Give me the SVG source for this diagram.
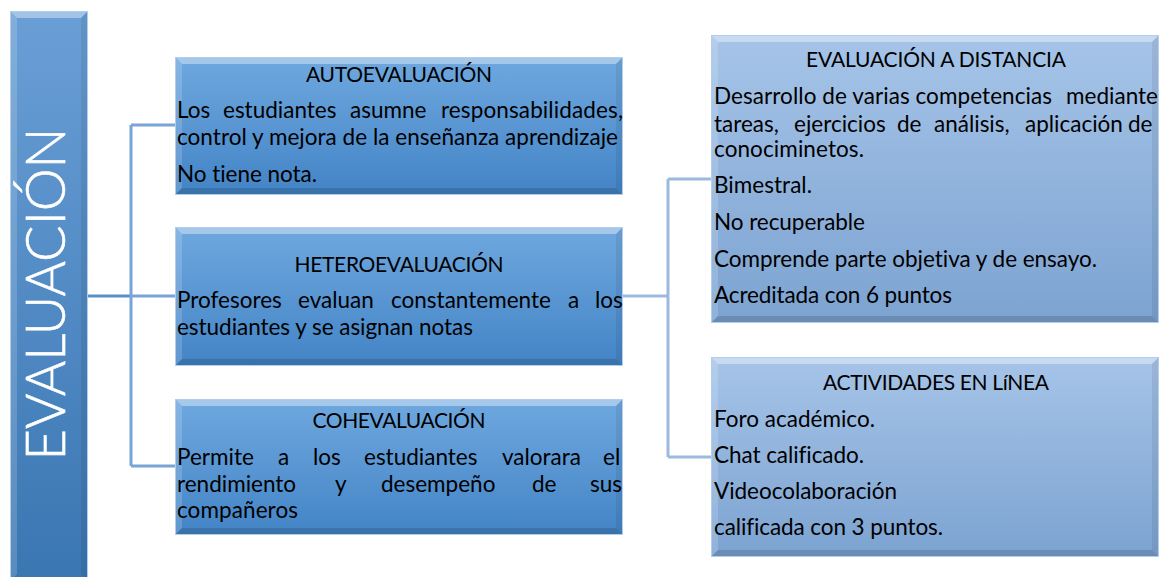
<svg xmlns="http://www.w3.org/2000/svg" width="1163" height="577" viewBox="0 0 1163 577">
<style>
.t{font-family:Lato,"Liberation Sans",sans-serif;font-size:22.5px;fill:#000;font-variant-ligatures:none}
.c{text-anchor:middle;font-size:21px}
.hi{fill:#fff;fill-opacity:.38}
.lf{fill:#fff;fill-opacity:.16}
.rt{fill:#000;fill-opacity:.07}
.bt{fill:#000;fill-opacity:.14}
.edge{fill:none;stroke:#b3cdea;stroke-width:1}
.trunk{fill:none;stroke:#5b8fca;stroke-width:3}
.br{fill:none;stroke:#78a4d6;stroke-width:3}
.rc{fill:none;stroke:#9cbadf;stroke-width:3}
</style>
<defs>
<linearGradient id="gL" x1="0" y1="0" x2="0" y2="1"><stop offset="0" stop-color="#6fa8df"/><stop offset="1" stop-color="#4384c6"/></linearGradient>
<linearGradient id="gR" x1="0" y1="0" x2="0" y2="1"><stop offset="0" stop-color="#a6c4e8"/><stop offset="1" stop-color="#7ca3d1"/></linearGradient>
<linearGradient id="gE" x1="0" y1="0" x2="0" y2="1"><stop offset="0" stop-color="#6a9fd6"/><stop offset="1" stop-color="#3a76b2"/></linearGradient>
</defs>
<g id="connectors">
<path class="trunk" d="M88,296 H131"/>
<path class="br" d="M131,296 H175 M131,125 V466 M131,125 H175 M131,466 H175"/>
<path class="rc" d="M623,296 H668 M668,179 V457 M668,179 H711 M668,457 H711"/>
</g>
<g id="evaluacion">
<rect x="10" y="11" width="78" height="570" fill="url(#gE)"/>
<polygon class="hi" points="10,11 88,11 81,18 17,18"/>
<polygon class="lf" points="10,11 17,18 17,574 10,581"/>
<polygon class="rt" points="88,11 88,581 81,574 81,18"/>
<rect class="edge" x="10.5" y="11.5" width="77" height="570"/>
<text transform="translate(65,294) rotate(-90)" text-anchor="middle" font-family="Lato,'Liberation Sans',sans-serif" font-weight="300" font-size="55" fill="#fff" stroke="#fff" stroke-width="0.6" textLength="333" lengthAdjust="spacingAndGlyphs">EVALUACIÓN</text>
</g>
<g id="autoevaluacion">
<rect x="175" y="57" width="448" height="138" fill="url(#gL)"/>
<polygon class="hi" points="175,57 623,57 616,64 182,64"/>
<polygon class="lf" points="175,57 182,64 182,188 175,195"/>
<polygon class="rt" points="623,57 623,195 616,188 616,64"/>
<polygon class="bt" points="175,195 623,195 616,188 182,188"/>
<rect class="edge" x="175.5" y="57.5" width="447" height="137"/>
<text class="t c" x="399" y="82" textLength="186">AUTOEVALUACIÓN</text>
<text class="t" y="118"><tspan x="177">Los</tspan><tspan x="223">estudiantes</tspan><tspan x="350">asumne</tspan><tspan x="441" textLength="182">responsabilidades,</tspan></text>
<text class="t" x="177" y="145" textLength="441">control y mejora de la enseñanza aprendizaje</text>
<text class="t" x="177" y="182" textLength="140">No tiene nota.</text>
</g>
<g id="heteroevaluacion">
<rect x="175" y="227" width="448" height="139" fill="url(#gL)"/>
<polygon class="hi" points="175,227 623,227 616,234 182,234"/>
<polygon class="lf" points="175,227 182,234 182,359 175,366"/>
<polygon class="rt" points="623,227 623,366 616,359 616,234"/>
<polygon class="bt" points="175,366 623,366 616,359 182,359"/>
<rect class="edge" x="175.5" y="227.5" width="447" height="138"/>
<text class="t c" x="399" y="272" textLength="209">HETEROEVALUACIÓN</text>
<text class="t" y="308"><tspan x="177">Profesores</tspan><tspan x="298">evaluan</tspan><tspan x="391">constantemente</tspan><tspan x="568">a</tspan><tspan x="595">los</tspan></text>
<text class="t" x="177" y="335" textLength="296">estudiantes y se asignan notas</text>
</g>
<g id="cohevaluacion">
<rect x="175" y="399" width="448" height="136" fill="url(#gL)"/>
<polygon class="hi" points="175,399 623,399 616,406 182,406"/>
<polygon class="lf" points="175,399 182,406 182,528 175,535"/>
<polygon class="rt" points="623,399 623,535 616,528 616,406"/>
<polygon class="bt" points="175,535 623,535 616,528 182,528"/>
<rect class="edge" x="175.5" y="399.5" width="447" height="135"/>
<text class="t c" x="399" y="428" textLength="173">COHEVALUACIÓN</text>
<text class="t" y="465"><tspan x="177">Permite</tspan><tspan x="278">a</tspan><tspan x="313">los</tspan><tspan x="364">estudiantes</tspan><tspan x="502">valorara</tspan><tspan x="603">el</tspan></text>
<text class="t" y="492"><tspan x="177">rendimiento</tspan><tspan x="335">y</tspan><tspan x="381">desempeño</tspan><tspan x="532">de</tspan><tspan x="590">sus</tspan></text>
<text class="t" x="177" y="518" textLength="121">compañeros</text>
</g>
<g id="distancia">
<rect x="711" y="35" width="448" height="288" fill="url(#gR)"/>
<polygon class="hi" points="711,35 1159,35 1152,42 718,42"/>
<polygon class="lf" points="711,35 718,42 718,316 711,323"/>
<polygon class="rt" points="1159,35 1159,323 1152,316 1152,42"/>
<polygon class="bt" points="711,323 1159,323 1152,316 718,316"/>
<rect class="edge" x="711.5" y="35.5" width="447" height="287"/>
<text class="t c" x="936" y="67" textLength="260">EVALUACIÓN A DISTANCIA</text>
<text class="t" y="104"><tspan x="714" textLength="338">Desarrollo de varias competencias</tspan><tspan x="1066" textLength="92">mediante</tspan></text>
<text class="t" y="132"><tspan x="714">tareas,</tspan><tspan x="794">ejercicios</tspan><tspan x="897">de</tspan><tspan x="934">análisis,</tspan><tspan x="1025">aplicación</tspan><tspan x="1128">de</tspan></text>
<text class="t" x="714" y="157" textLength="150">conociminetos.</text>
<text class="t" x="714" y="193" textLength="98">Bimestral.</text>
<text class="t" x="714" y="230" textLength="151">No recuperable</text>
<text class="t" x="714" y="267" textLength="383">Comprende parte objetiva y de ensayo.</text>
<text class="t" x="714" y="303" textLength="238">Acreditada con 6 puntos</text>
</g>
<g id="actividades">
<rect x="711" y="357" width="448" height="200" fill="url(#gR)"/>
<polygon class="hi" points="711,357 1159,357 1152,364 718,364"/>
<polygon class="lf" points="711,357 718,364 718,550 711,557"/>
<polygon class="rt" points="1159,357 1159,557 1152,550 1152,364"/>
<polygon class="bt" points="711,557 1159,557 1152,550 718,550"/>
<rect class="edge" x="711.5" y="357.5" width="447" height="199"/>
<text class="t c" x="936" y="390" textLength="226">ACTIVIDADES EN LíNEA</text>
<text class="t" x="714" y="427" textLength="161">Foro académico.</text>
<text class="t" x="714" y="463" textLength="150">Chat calificado.</text>
<text class="t" x="714" y="499" textLength="183">Videocolaboración</text>
<text class="t" x="714" y="535" textLength="229">calificada con 3 puntos.</text>
</g>
</svg>
